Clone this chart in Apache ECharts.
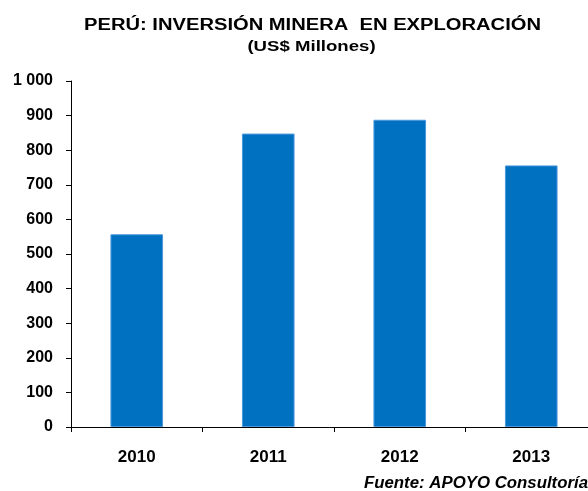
<!DOCTYPE html>
<html>
<head>
<meta charset="utf-8">
<script src="https://cdn.jsdelivr.net/npm/echarts@6/dist/echarts.min.js"></script>
<style>
html,body{margin:0;padding:0;background:#fff;}
#chart{width:588px;height:491px;}
</style>
</head>
<body>
<div id="chart"></div>
<script>
var categories = ['2010', '2011', '2012', '2013'];
var values = [557, 848, 888, 756];
var yTicks = [0, 100, 200, 300, 400, 500, 600, 700, 800, 900, 1000];
var titleText = 'PERÚ: INVERSIÓN MINERA  EN EXPLORACIÓN';
var subtitleText = '(US$ Millones)';
var sourceText = 'Fuente: APOYO Consultoría';

var FONT = '"Liberation Sans", Arial, sans-serif';
var chart = echarts.init(document.getElementById('chart'), null, {renderer: 'canvas'});
chart.setOption({
  animation: false,
  backgroundColor: '#ffffff',
  graphic: [
    {type: 'text', x: 84, y: 25.5, scaleX: 1.26,
     style: {text: titleText, font: 'bold 16px ' + FONT, fill: '#000', textAlign: 'left', textVerticalAlign: 'middle'}},
    {type: 'text', x: 311.5, y: 47, scaleX: 1.24,
     style: {text: subtitleText, font: 'bold 15px ' + FONT, fill: '#000', textAlign: 'center', textVerticalAlign: 'middle'}},
    {type: 'text', x: 588, y: 484, scaleX: 1.05,
     style: {text: sourceText, font: 'italic bold 16px ' + FONT, fill: '#000', textAlign: 'right', textVerticalAlign: 'middle'}}
  ],
  grid: {left: 71, top: 81, width: 526, height: 346, containLabel: false, outerBoundsMode: 'none'},
  xAxis: {
    type: 'category',
    data: categories,
    boundaryGap: true,
    axisLine: {show: true, lineStyle: {color: '#000', width: 1}},
    axisTick: {show: true, length: 5, inside: false, lineStyle: {color: '#000'}},
    axisLabel: {margin: 22, fontFamily: FONT, fontWeight: 'bold', fontSize: 17, color: '#000'},
    splitLine: {show: false}
  },
  yAxis: {
    type: 'value',
    min: yTicks[0],
    max: yTicks[yTicks.length - 1],
    interval: 100,
    axisLine: {show: true, lineStyle: {color: '#000', width: 1}},
    axisTick: {show: true, length: 5, inside: false, lineStyle: {color: '#000'}},
    axisLabel: {margin: 18, fontFamily: FONT, fontWeight: 'bold', fontSize: 16, color: '#000',
      formatter: function (v) { return v >= 1000 ? String(v).replace(/\B(?=(\d{3})+(?!\d))/g, ' ') : String(v); }},
    splitLine: {show: false}
  },
  series: [{
    type: 'bar',
    data: values,
    barWidth: '40%',
    itemStyle: {color: '#0070C0', borderColor: '#4a98dc', borderWidth: 1}
  }]
});
</script>
</body>
</html>
